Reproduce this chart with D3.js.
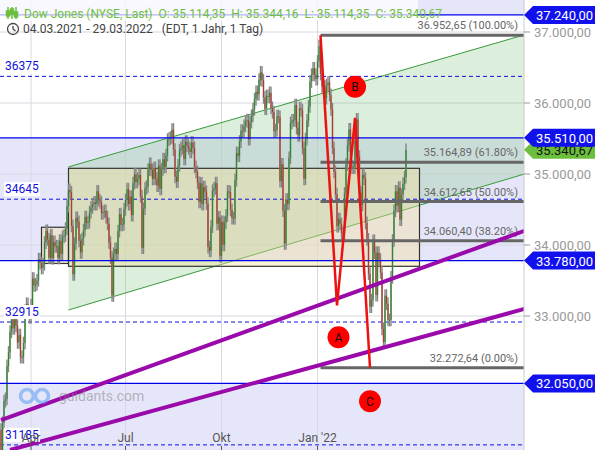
<!DOCTYPE html>
<html><head><meta charset="utf-8">
<script src="https://cdn.jsdelivr.net/npm/d3@7/dist/d3.min.js"></script>
<style>body{margin:0;background:#fff}svg{font-family:Roboto,"Open Sans",sans-serif}</style>
</head><body><svg id="c" width="595" height="450"></svg>
<script>
const closes=[30924,31496,31802,31833,32297,32486,32779,32953,32826,33015,32862,32628,32731,32423,32420,32619,33072,33171,33066,32982,
33153,33527,33430,33446,33503,33800,33745,33677,33730,34035,34200,34078,33821,34137,33815,34043,33981,33984,33820,34060,33874,
34113,34133,34230,34548,34777,34742,34269,33587,34021,34382,34327,34060,33896,34084,34208,34394,34312,34323,34464,34529,
34575,34600,34577,34756,34630,34600,34447,34466,34480,34393,34299,34033,33823,33290,33876,33945,33874,34196,34433,34283,34292,34502,
34633,34786,34577,34681,34421,34870,34996,34889,34933,34987,34687,33962,34511,34798,34823,35061,35144,35058,34930,35085,34935,
34838,35116,34792,35064,35208,35101,35264,35484,35499,35515,35625,35343,34960,34894,35120,35335,35366,35405,35213,35455,35399,35361,
35312,35443,35369,35100,35031,34879,34607,34869,34577,34814,34751,34584,33970,33919,34258,34765,34798,34870,34299,34390,33844,
34326,34002,34314,34417,34754,34746,34496,34378,34377,34912,35295,35258,35457,35609,35603,35677,35741,35757,35490,35730,35820,
35913,36053,36158,36124,36328,36432,36320,36080,35921,36100,36087,36143,35931,35871,35602,35619,35814,35804,34899,35136,34484,
34022,34640,34580,35227,35719,35754,35755,35971,35650,35544,35928,35898,35365,34932,35493,35754,35951,36302,36398,36488,36398,36338,
36585,36800,36408,36236,36231,36068,36252,36290,36114,35912,35369,35029,34715,34265,34365,34298,34168,34160,34725,35132,
35405,35629,35111,35090,35091,35463,35768,35242,34738,34566,34989,34934,34312,34079,33597,33132,33224,34059,33893,
33295,33891,33795,33615,32818,32633,33286,33174,32944,32945,33545,34063,34481,34755,34553,34808,34359,34708,34862,34956,35340];
const firstOpen=31400;
const monthLabels=["Apr","Jul","Okt","Jan '22"];
const monthIdx=[20,83,147,211];
const yTicks=[37000,36000,35000,34000,33000];
const solidLevels=[37240,35510,33780,32050];
const dashedLevels=[36375,34645,32915,31185];
const fibValues=[36952.65,35164.89,34612.65,34060.40,32272.64];
const fibLabels=["36.952,65 (100.00%)","35.164,89 (61.80%)","34.612,65 (50.00%)","34.060,40 (38.20%)","32.272,64 (0.00%)"];
const lastPrice=35340.67;
const zigzag=[[213,36952],[224,33150],[236,35790],[246,32272]];
const pointLabels=[["B",236,36230],["A",225,32700],["C",246,31800]];
const channelUpper=[[45,35100],[349,36960]];
const channelLower=[[45,33085],[349,35000]];
const boxes=[[27,45,34250,33740],[45,279,35080,33700]];
const purple1=[[0,31535],[349,34200]];
const purple2=[[6,31113],[349,33100]];

const svg=d3.select("#c");
const W=524,H=450;
const x=d3.scaleLinear().domain([0,1]).range([1,2.5]);
const y=d3.scaleLinear().domain([37000,33000]).range([32,316]);
const fmt=v=>d3.format(",.2f")(v).replace(/,/g,"X").replace(/\./g,",").replace(/X/g,".");
const defs=svg.append("defs");
defs.append("clipPath").attr("id","pc").append("rect").attr("width",W).attr("height",H);
const g=svg.append("g").attr("clip-path","url(#pc)");
const lav="#e6e6fa";
[[40000,37240],[35510,33780],[32050,29000]].forEach(([a,b])=>g.append("rect").attr("x",0).attr("width",W).attr("y",y(a)).attr("height",y(b)-y(a)).attr("fill",lav));
yTicks.forEach(t=>g.append("line").attr("x1",0).attr("x2",W).attr("y1",y(t)).attr("y2",y(t)).attr("stroke","#d8d8e0"));
monthIdx.forEach(i=>g.append("line").attr("x1",x(i)).attr("x2",x(i)).attr("y1",0).attr("y2",H).attr("stroke","#d8d8e0"));
const ch=[channelUpper[0],channelUpper[1],channelLower[1],channelLower[0]];
g.append("path").attr("d",d3.line().x(d=>x(d[0])).y(d=>y(d[1]))(ch)+"Z").attr("fill","rgba(130,195,130,0.28)");
[channelUpper,channelLower].forEach(l=>g.append("line").attr("x1",x(l[0][0])).attr("y1",y(l[0][1])).attr("x2",x(l[1][0])).attr("y2",y(l[1][1])).attr("stroke","#3a9a3a").attr("stroke-width",1));
boxes.forEach(b=>g.append("rect").attr("x",x(b[0])).attr("width",x(b[1])-x(b[0])).attr("y",y(b[2])).attr("height",y(b[3])-y(b[2])).attr("fill","rgba(245,225,150,0.38)").attr("stroke","#333").attr("stroke-width",1.2));
dashedLevels.forEach(v=>g.append("line").attr("x1",0).attr("x2",W).attr("y1",y(v)).attr("y2",y(v)).attr("stroke","#1010dd").attr("stroke-dasharray","4,3"));
let prev=firstOpen;
closes.forEach((c,i)=>{
  const o=prev; prev=c;
  const hi=Math.max(o,c)+90, lo=Math.min(o,c)-90;
  g.append("line").attr("x1",x(i)).attr("x2",x(i)).attr("y1",y(hi)).attr("y2",y(lo)).attr("stroke","#858585").attr("stroke-width",1.4);
  g.append("rect").attr("x",x(i)-0.6).attr("width",1.2).attr("y",y(Math.max(o,c))).attr("height",Math.max(1,Math.abs(y(o)-y(c)))).attr("fill",c>=o?"#2a8a2a":"#b23a2a");
});
solidLevels.forEach(v=>g.append("line").attr("x1",0).attr("x2",W).attr("y1",y(v)).attr("y2",y(v)).attr("stroke","#0000ee").attr("stroke-width",1.2));
fibValues.forEach((v,k)=>{
  g.append("line").attr("x1",x(213)).attr("x2",W).attr("y1",y(v)).attr("y2",y(v)).attr("stroke","#666").attr("stroke-width",3);
  g.append("text").attr("x",518).attr("y",y(v)-6).attr("text-anchor","end").attr("font-size",11).attr("fill","#666").text(fibLabels[k]);
});
[purple1,purple2].forEach(l=>g.append("line").attr("x1",x(l[0][0])).attr("y1",y(l[0][1])).attr("x2",x(l[1][0])).attr("y2",y(l[1][1])).attr("stroke","#9a0aaa").attr("stroke-width",4));
g.append("path").attr("d",d3.line().x(d=>x(d[0])).y(d=>y(d[1]))(zigzag)).attr("fill","none").attr("stroke","#ee1111").attr("stroke-width",2.5);
pointLabels.forEach(([t,i,v])=>{
  g.append("circle").attr("cx",x(i)).attr("cy",y(v)).attr("r",11).attr("fill","#ff0000");
  g.append("text").attr("x",x(i)).attr("y",y(v)+4.5).attr("text-anchor","middle").attr("font-size",12).attr("fill","#111").text(t);
});
dashedLevels.forEach(v=>{
  const t=g.append("text").attr("x",5).attr("y",y(v)-6).attr("font-size",12).attr("fill","#1010dd").text(v);
  const bb=t.node().getBBox();
  g.insert("rect","text:last-of-type").attr("x",bb.x-1).attr("y",bb.y).attr("width",bb.width+2).attr("height",bb.height).attr("fill","#fff");
});
const wm=g.append("g").attr("opacity",0.55);
wm.append("circle").attr("cx",27).attr("cy",396).attr("r",6.5).attr("fill","none").attr("stroke","#5a9ef0").attr("stroke-width",3.5);
wm.append("circle").attr("cx",42).attr("cy",396).attr("r",6.5).attr("fill","none").attr("stroke","#5a9ef0").attr("stroke-width",3.5);
wm.append("text").attr("x",59).attr("y",401).attr("font-size",14).attr("fill","#888").text("guidants.com");
svg.append("line").attr("x1",W).attr("x2",W).attr("y1",0).attr("y2",H).attr("stroke","#ccc");
yTicks.forEach(t=>{
  svg.append("line").attr("x1",W).attr("x2",W+6).attr("y1",y(t)).attr("y2",y(t)).attr("stroke","#999");
  svg.append("text").attr("x",534).attr("y",y(t)+5).attr("font-size",13).attr("fill","#999").text(fmt(t));
});
monthIdx.forEach((i,k)=>{
  svg.append("text").attr("x",x(i)).attr("y",442).attr("text-anchor","middle").attr("font-size",12).attr("fill","#555").text(monthLabels[k]);
  svg.append("line").attr("x1",x(i)).attr("x2",x(i)).attr("y1",446).attr("y2",450).attr("stroke","#555");
});
function tag(v,bg,fg){
  const yy=y(v);
  svg.append("path").attr("d",`M${W},${yy} L${W+9},${yy-9} H595 V${yy+9} H${W+9} Z`).attr("fill",bg);
  svg.append("text").attr("x",W+12).attr("y",yy+5).attr("font-size",13).attr("fill",fg).text(fmt(v));
}
tag(lastPrice,"#6cbf3c","#111");
solidLevels.forEach(v=>tag(v,"#1111ee","#fff"));
svg.append("rect").attr("x",0).attr("y",0).attr("width",418).attr("height",21).attr("fill","rgba(255,255,255,0.7)");
const ic=svg.append("g").attr("stroke","#6cbf3c").attr("stroke-width",1.5);
[8,12,16].forEach((xx,k)=>{ic.append("line").attr("x1",xx).attr("x2",xx).attr("y1",7).attr("y2",19);ic.append("rect").attr("x",xx-1.5).attr("y",[11,9,12][k]).attr("width",3).attr("height",5).attr("fill","#6cbf3c");});
svg.append("text").attr("x",24).attr("y",18).attr("font-size",12).attr("fill","#6cbf3c").attr("xml:space","preserve").text("Dow Jones (NYSE, Last)  O: 35.114,35  H: 35.344,16  L: 35.114,35  C: 35.340,67");
svg.append("circle").attr("cx",13).attr("cy",29).attr("r",5.5).attr("fill","none").attr("stroke","#444").attr("stroke-width",1.3);
svg.append("path").attr("d","M13,26 V29 L15.5,31").attr("fill","none").attr("stroke","#444").attr("stroke-width",1.3);
svg.append("text").attr("x",23).attr("y",33).attr("font-size",12).attr("fill","#444").attr("xml:space","preserve").text("04.03.2021 - 29.03.2022   (EDT, 1 Jahr, 1 Tag)");
</script></body></html>
